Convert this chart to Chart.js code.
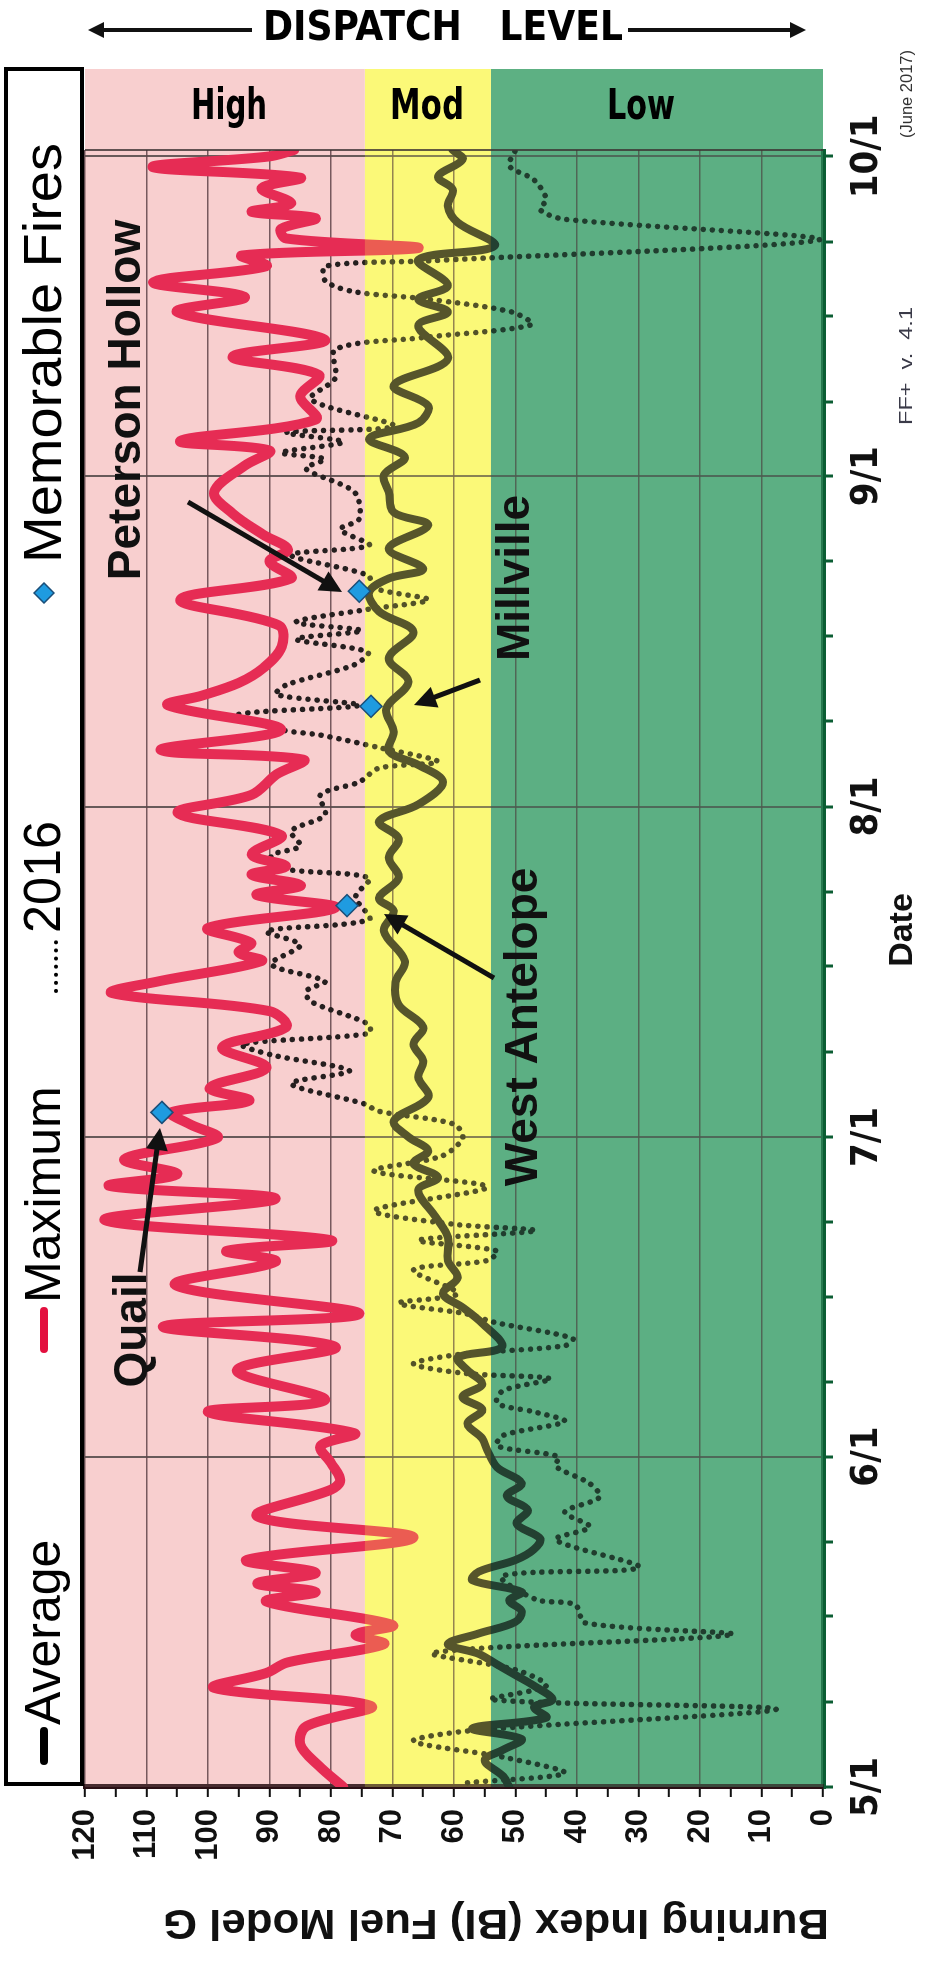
<!DOCTYPE html>
<html><head><meta charset="utf-8">
<script src="https://cdn.jsdelivr.net/npm/chart.js@4.4.1/dist/chart.umd.min.js"></script>
<style>
html,body{margin:0;padding:0;background:#fff;overflow:hidden;width:931px;height:1971px;}
#wrap{position:absolute;left:0;top:0;width:1971px;height:931px;transform-origin:0 0;transform:translate(0px,1971px) rotate(-90deg);}
canvas{display:block;}
</style></head><body>
<div id="wrap"><canvas id="c" width="1971" height="931"></canvas></div>
<script>
// ---------- DATA ----------
const monthDays = [0, 31, 61, 92, 123, 153];
const monthLabels = ['5/1', '6/1', '7/1', '8/1', '9/1', '10/1'];
const tickDays = [0, 8, 16, 23, 31, 38, 46, 53, 61, 69, 77, 84, 92, 100, 108, 115, 123, 130, 138, 145, 153];
const biTicks = [0, 5, 10, 15, 20, 25, 30, 35, 40, 45, 50, 55, 60, 65, 70, 75, 80, 85, 90, 95, 100, 105, 110, 115, 120];

const zoneNames = ['Low', 'Mod', 'High'];
const zoneLows = [0, 54, 74.5];
const zoneHighs = [54, 74.5, 120];

const seriesNames = ['Average', 'Maximum', '2016', 'Memorable Fires'];

const maxDays = [0,2,4,5.7,7.6,9.3,10.7,11.7,13.4,14.3,15.2,17.4,18.3,19.1,20.1,21.3,23.4,25.4,27.9,28.8,30.4,32,33.2,35.2,36.3,39.1,41.3,43.2,44.4,47.1,49.3,50.3,51.3,53.2,55.2,56.4,57.5,58.9,60.9,62.2,63.3,64.4,65.6,67.5,69.4,71.3,72.8,74.5,75.6,77.5,78.3,79.2,80.6,82.5,83.7,84.6,85.6,86.4,87.5,89.3,91.4,93.1,95,96.4,97.3,99.2,101.5,102.4,103.6,105,107,109,111.4,113.4,115,116.1,117.5,119.5,121.5,124,125.4,126.3,128.3,130.5,132.5,134.2,135.8,138.4,139.8,141.2,142.7,143.7,144.4,145.3,146.2,147.2,147.8,148.6,150,151,152,153,153.6];
const maxValues = [78,82,85,84,73.5,99,90.5,87,71.4,76,70,90.5,82.5,92,82.5,93.7,66.6,92,80,78.5,80,81.7,76.2,100,81,95.3,79.3,107.3,75.4,105.3,89,97,80,116.8,89,116,105,113.6,98.5,103,106,93.3,99.7,90.5,97.7,87.3,90,115.6,108,91.3,95,93,100,79.3,92.1,84.9,92.9,87.3,92.9,88.1,104.9,92.9,88.9,84.5,107.7,88.1,106.5,101,95,91,88,88.5,104.5,86.5,90,87,91,96,99,94,90,104.5,82.5,85,82,96,81,105,94,108.9,90.5,94.5,65.8,87.3,88.1,82.5,92.9,86.5,91.3,85,109,90,86];

const avgDays = [0,1,2.5,3.5,4.5,5.5,6.5,7.5,8.2,9.5,10.5,11.5,12.5,13.4,14.4,15.5,16.5,17.5,18.3,19.4,20.2,21.3,22.3,23.3,24.7,26,27.3,28.5,30,31.6,32.7,34.1,35.4,36.6,37.8,39.1,40.3,41.3,43.5,45,46.3,47.8,49.4,51.6,53.5,56,57.2,58.5,59.7,61,62.5,64.7,66.6,68.1,69.7,71.3,73.4,75.5,77.5,80.3,82.2,83.4,85.3,87.2,89,90.6,92.2,94.3,95.9,97.2,99,101.2,103.7,105.9,108.4,110.3,112.1,113.4,114.3,116.2,118.4,119.6,121.5,123.1,124.8,126.5,128,129.6,131.5,134,137.1,138.4,139.6,140.9,143.3,144.6,146.8,148.3,149.9,151.1,152.7,153.6];
const avgValues = [51,52,55,52,49,57,45,47,44,47,50,53,56,61,56,50,49,51,49,57,56,50,47,46,49.8,48,51.4,49,53,54.6,55.4,57.8,55.4,58.6,55.4,57.8,59.4,52.2,55.4,58.6,61.8,59.4,61,61,63,65.8,62.6,66.6,64.2,67.4,69.8,64.2,65.8,65,66.6,65,69,69.5,68,71.4,69.8,72.2,69,70.6,69,72.2,65.8,61.8,65.8,70.6,69.8,71,67.4,70.6,66.6,72.2,73.8,70.6,65,70.6,64.2,69.8,70.6,71.4,68,73.8,65.8,64.2,69.8,61,65.8,61,65.8,61,65.8,53.4,59.4,61,60.2,62.6,58.6,60.2];

const y2016Days = [0.4,1.3,2.8,4.3,5.3,7.3,8.2,9.5,11,12.6,14.3,15.4,17.1,17.6,19.8,20.6,23.2,24.4,25.8,27.2,28.5,30.1,31,32,33,34.3,35.2,36,37.2,38.3,38.8,39.7,40.6,41.4,42.1,43.6,44.4,45.4,46.3,48.5,49.4,50.3,51.3,52.2,52.8,54.1,56.3,57.8,59.2,60.9,62.2,63.4,64.1,66,67.2,68.7,69.7,70.7,71.6,73.7,74.7,75.6,77.2,79,80.3,81.4,83.5,85.3,86.2,87.4,88.3,89.7,91.2,93.1,94.3,95.6,96.2,97.5,98.7,99.2,100.6,101.5,102.5,103.4,105.3,106.5,107.7,108.5,109.3,110.5,111.4,112.5,113.7,115.6,116.5,118,119,121.5,123.7,124.6,125.2,126.2,127.1,127.7,130.2,132.2,134.9,136,137.2,138.4,139.6,140.3,141.3,142.7,143.2,145.2,147.1,148,149,150.8,152.1,153.6];
const y2016Values = [57.8,42,52,66.6,57,7.6,54,45,50,63.4,14.8,38.7,40.3,46.7,52.2,29.9,43.5,37.9,42,36.3,38,43.5,43,53,52,42,47,53,52,44.3,58,66.6,59,42,40.7,53.4,58,69,59.4,66.6,54.6,53,65.8,46.7,60,73,54.6,73,62,58.6,60,72.2,74.6,86.5,77,89.7,94.5,73.8,74,83.3,84,81,89.7,85,90.5,73.8,76,73.8,88.1,89.7,85,86.5,81,81.7,75.4,72.2,62.6,72,81.7,88.1,95.3,75.4,88.9,87.3,76.2,74,85.7,75,85.7,74,64.2,73,74,86.5,73.8,78.5,75.4,76.2,84.1,81,88.1,78,87.3,69.8,83.3,79.3,79.3,65,47.4,50.6,64.2,76.2,80.9,80.9,64.2,0.5,42,46,45,47,51,50];

const fireNames = ['Quail', 'West Antelope', 'Millville', 'Peterson Hollow'];
const fireDays = [63.3, 82.7, 101.4, 112.2];
const fireValues = [107.5, 77.4, 73.5, 75.4];

// ---------- STYLE / LAYOUT ----------
const W = 1971, H = 931;
const SANS = "'Liberation Sans', Arial, sans-serif";
const NARROW = "'Liberation Sans Narrow', 'DejaVu Sans Condensed', 'Arial Narrow', sans-serif";
const zoneColors = ['#5db083', '#fbf978', '#f8cfcf'];
const zoneTint = [0.35, 0.33, 0.15];
const RED = '#e3103f';
// annotation layout in page coordinates (rotated view)
const annLayout = {
  'Quail':           {tx: 133, ty: 1330, ax1: 140, ay1: 1272, ax2: 160, ay2: 1128},
  'West Antelope':   {tx: 524, ty: 1027, ax1: 494, ay1: 978, ax2: 384, ay2: 914},
  'Millville':       {tx: 516, ty: 578,  ax1: 480, ay1: 680, ax2: 414, ay2: 705},
  'Peterson Hollow': {tx: 127, ty: 400,  ax1: 188, ay1: 502, ax2: 342, ay2: 592}
};

function pts(xs, ys) { return xs.map((x, i) => ({x: x, y: ys[i]})); }

function drawArrow(ctx, x1, y1, x2, y2, w, head) {
  const a = Math.atan2(y2 - y1, x2 - x1);
  ctx.save();
  ctx.lineWidth = w; ctx.strokeStyle = '#111'; ctx.fillStyle = '#111'; ctx.lineCap = 'butt';
  ctx.beginPath(); ctx.moveTo(x1, y1);
  ctx.lineTo(x2 - head * 0.8 * Math.cos(a), y2 - head * 0.8 * Math.sin(a)); ctx.stroke();
  ctx.beginPath(); ctx.moveTo(x2, y2);
  ctx.lineTo(x2 - head * Math.cos(a) + head * 0.5 * Math.sin(a), y2 - head * Math.sin(a) - head * 0.5 * Math.cos(a));
  ctx.lineTo(x2 - head * Math.cos(a) - head * 0.5 * Math.sin(a), y2 - head * Math.sin(a) + head * 0.5 * Math.cos(a));
  ctx.closePath(); ctx.fill();
  ctx.restore();
}
function fitText(ctx, text, x, y, font, color, targetW, align) {
  ctx.save();
  ctx.font = font; ctx.fillStyle = color; ctx.textAlign = align || 'center'; ctx.textBaseline = 'middle';
  const w = ctx.measureText(text).width;
  ctx.translate(x, y);
  if (targetW) ctx.scale(targetW / w, 1);
  ctx.fillText(text, 0, 0);
  ctx.restore();
}
function diamond(ctx, x, y, r) {
  ctx.save();
  ctx.beginPath(); ctx.moveTo(x, y - r); ctx.lineTo(x + r, y); ctx.lineTo(x, y + r); ctx.lineTo(x - r, y); ctx.closePath();
  ctx.fillStyle = '#1f9be0'; ctx.fill();
  ctx.lineWidth = 1.5; ctx.strokeStyle = '#1b4e78'; ctx.stroke();
  ctx.restore();
}

const decor = {
  id: 'decor',
  beforeDraw(chart) {
    const {ctx, chartArea: ca, scales: {y}} = chart;
    ctx.save();
    ctx.fillStyle = '#fff'; ctx.fillRect(0, 0, W, H);
    for (let i = 0; i < zoneNames.length; i++) {
      const t = y.getPixelForValue(zoneHighs[i]), b = y.getPixelForValue(zoneLows[i]);
      ctx.fillStyle = zoneColors[i];
      ctx.fillRect(ca.left, t, (W - 69) - ca.left, b - t);
    }
    ctx.restore();
  },
  afterDatasetDraw(chart, args) {
    if (args.index !== 1) return;
    const {ctx, chartArea: ca, scales: {y}} = chart;
    ctx.save();
    for (let i = 0; i < zoneNames.length; i++) {
      const t = y.getPixelForValue(zoneHighs[i]), b = y.getPixelForValue(zoneLows[i]);
      ctx.globalAlpha = zoneTint[i];
      ctx.fillStyle = zoneColors[i];
      ctx.fillRect(ca.left, t, ca.right - ca.left, b - t);
    }
    ctx.restore();
  },
  afterDraw(chart) {
    const {ctx, chartArea: ca} = chart;
    ctx.save();
    ctx.strokeStyle = 'rgba(60,50,50,0.8)'; ctx.lineWidth = 2;
    ctx.beginPath(); ctx.moveTo(ca.right, ca.top); ctx.lineTo(ca.right, ca.bottom); ctx.stroke();
    ctx.restore();

    // ----- page-oriented drawing (reads normally after rotation) -----
    ctx.save();
    ctx.translate(W, 0); ctx.rotate(Math.PI / 2);
    fitText(ctx, 'DISPATCH   LEVEL', 443, 30, 'bold 40px ' + NARROW, '#000', 360);
    drawArrow(ctx, 252, 30, 88, 30, 4, 16);
    drawArrow(ctx, 628, 30, 806, 30, 4, 16);
    const headerX = [641, 427, 229];
    for (let i = 0; i < zoneNames.length; i++) {
      fitText(ctx, zoneNames[i], headerX[i], 108, 'bold 42px ' + NARROW, '#000', [68, 74, 76][i]);
    }
    ctx.restore();

    // ----- legend (original orientation) -----
    ctx.save();
    ctx.lineWidth = 4; ctx.strokeStyle = '#000';
    ctx.strokeRect(187, 6, 1715, 76);
    const ly = 44;
    ctx.font = '50px ' + SANS; ctx.fillStyle = '#000'; ctx.textBaseline = 'middle'; ctx.textAlign = 'left';
    ctx.lineWidth = 8; ctx.lineCap = 'round';
    ctx.strokeStyle = '#000'; ctx.beginPath(); ctx.moveTo(210, ly); ctx.lineTo(240, ly); ctx.stroke();
    ctx.fillText(seriesNames[0], 246, ly + 2);
    ctx.strokeStyle = RED; ctx.beginPath(); ctx.moveTo(622, ly); ctx.lineTo(660, ly); ctx.stroke();
    ctx.fillText(seriesNames[1], 668, ly + 2);
    ctx.lineWidth = 4; ctx.strokeStyle = '#000'; ctx.setLineDash([0.1, 8]);
    ctx.beginPath(); ctx.moveTo(980, ly + 12); ctx.lineTo(1032, ly + 12); ctx.stroke();
    ctx.setLineDash([]);
    fitText(ctx, seriesNames[2], 1038, ly + 2, '52px ' + SANS, '#000', 112, 'left');
    diamond(ctx, 1378, ly, 10);
    fitText(ctx, seriesNames[3], 1408, ly + 2, '54px ' + SANS, '#000', 420, 'left');
    ctx.restore();

    // ----- annotations -----
    for (const name of fireNames) {
      const a = annLayout[name];
      fitText(ctx, name, W - a.ty, a.tx, 'bold 46px ' + SANS, '#111');
      drawArrow(ctx, W - a.ay1, a.ax1, W - a.ay2, a.ax2, 5, 22);
    }

    // ----- titles -----
    fitText(ctx, 'Date', 1041, 903, 'bold 34px ' + SANS, '#111');
    fitText(ctx, '(June 2017)', 1877, 907, '17px ' + SANS, '#333', 88);
    fitText(ctx, 'FF+  v.  4.1', 1605, 907, '19px ' + SANS, '#3a3a48', 118);
    ctx.save();
    ctx.translate(49, 496); ctx.rotate(-Math.PI / 2);
    fitText(ctx, 'Burning Index (BI) Fuel Model G', 0, 0, 'bold 42px ' + SANS, '#111', 666);
    ctx.restore();
  }
};

const chart = new Chart(document.getElementById('c'), {
  type: 'line',
  data: {
    datasets: [
      {
        label: seriesNames[3], type: 'scatter', data: pts(fireDays, fireValues), order: 0,
        pointStyle: 'rectRot', pointRadius: 11, backgroundColor: '#1f9be0', borderColor: '#1b4e78', borderWidth: 1.5
      },
      {
        label: seriesNames[1], data: pts(maxDays, maxValues), order: 1,
        borderColor: RED, borderWidth: 10, pointRadius: 0, tension: 0.35, borderCapStyle: 'round', borderJoinStyle: 'round', fill: false
      },
      {
        label: seriesNames[0], data: pts(avgDays, avgValues), order: 2,
        borderColor: '#050505', borderWidth: 8, pointRadius: 0, tension: 0.35, borderCapStyle: 'round', borderJoinStyle: 'round', fill: false
      },
      {
        label: seriesNames[2], data: pts(y2016Days, y2016Values), order: 3,
        borderColor: '#000', borderWidth: 5.5, borderDash: [0.1, 9], borderCapStyle: 'round', pointRadius: 0, tension: 0.3, fill: false
      }
    ]
  },
  options: {
    responsive: false, animation: false, devicePixelRatio: 1,
    layout: {padding: {left: 0, right: 150, top: 85, bottom: 0}},
    plugins: {legend: {display: false}, tooltip: {enabled: false}},
    scales: {
      x: {
        type: 'linear', position: 'bottom', min: 0, max: 153.6,
        afterBuildTicks: (axis) => { axis.ticks = tickDays.map(v => ({value: v})); },
        afterFit: (s) => { s.height = 108; },
        ticks: {
          autoSkip: false, maxRotation: 0, padding: 11, color: '#111',
          font: {family: NARROW, size: 38, weight: 'bold'},
          callback: (v) => { const i = monthDays.indexOf(v); return i >= 0 ? monthLabels[i] : ''; }
        },
        grid: {
          color: (c) => (c.tick && monthDays.indexOf(c.tick.value) > 0) ? 'rgba(70,62,62,0.95)' : 'rgba(0,0,0,0)',
          lineWidth: 2, tickColor: '#0b5d33', tickLength: 10, tickWidth: 3
        },
        border: {color: '#0b5d33', width: 5}
      },
      y: {
        type: 'linear', position: 'left', min: 0, max: 120,
        afterBuildTicks: (axis) => { axis.ticks = biTicks.map(v => ({value: v})); },
        afterFit: (s) => { s.width = 184; },
        ticks: {
          autoSkip: false, padding: 12, color: '#111',
          font: {family: SANS, size: 31, weight: 'bold'},
          callback: (v) => (v % 10 === 0 ? String(v) : '')
        },
        grid: {
          color: (c) => (c.tick && c.tick.value % 10 === 0 && c.tick.value > 0) ? 'rgba(70,45,50,0.85)' : 'rgba(0,0,0,0)',
          lineWidth: 1.6, tickColor: '#111', tickLength: 10, tickWidth: 2
        },
        border: {color: '#2a1015', width: 5}
      }
    }
  },
  plugins: [decor]
});
</script>
</body></html>
